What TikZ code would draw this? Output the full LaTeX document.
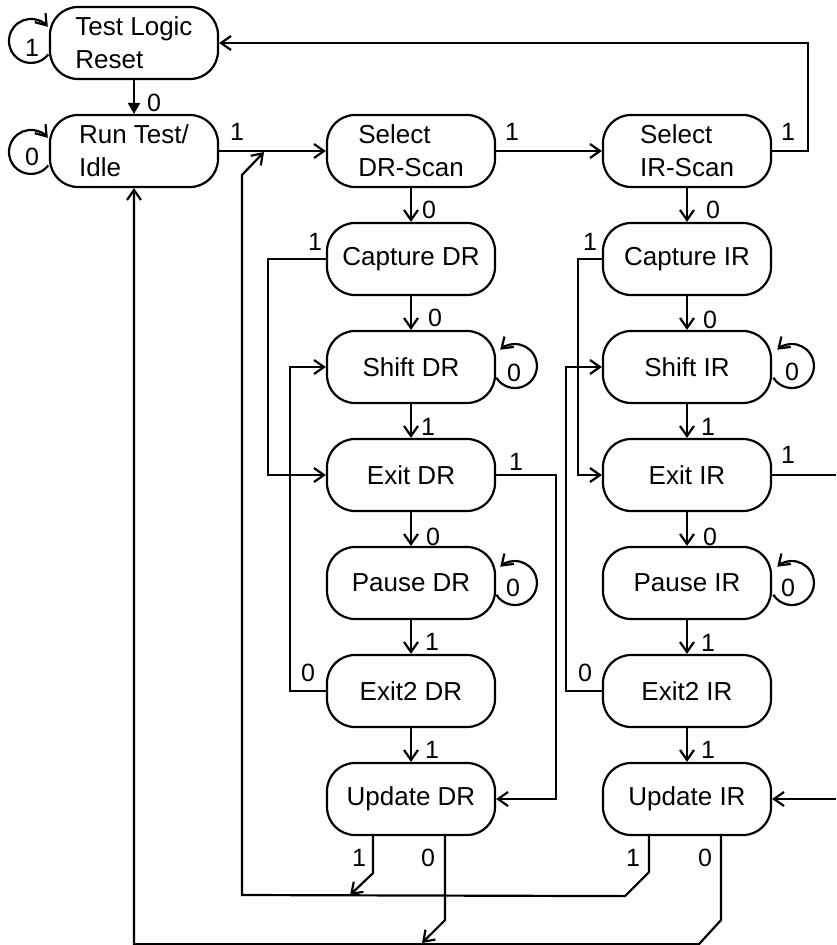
\documentclass[tikz,border=0pt]{standalone}
\usepackage{fontspec}
\setmainfont{Liberation Sans}
\usetikzlibrary{arrows.meta}
\begin{document}
\begin{tikzpicture}[x=1pt,y=-1pt,
  state/.style={draw, line width=2.2pt, rounded corners=28pt, minimum width=168pt, minimum height=72pt, inner sep=0pt, align=left, font=\fontsize{26}{33}\selectfont},
  lbl/.style={font=\fontsize{25}{30}\selectfont, inner sep=0pt},
  wire/.style={line width=2.2pt},
  arr/.style={wire, -{Straight Barb[length=10pt,width=14pt]}},
]
\useasboundingbox (0,0) rectangle (836,945);
% states
\node[state] (tlr) at (134,43) {Test Logic\\Reset};
\node[state] (rti) at (134,151) {Run Test/\\Idle};
\node[state] (sdr) at (411,151) {Select\\DR-Scan};
\node[state] (sir) at (687,151) {Select\\IR-Scan};
\node[state] (cdr) at (411,259) {Capture DR};
\node[state] (shdr) at (411,367) {Shift DR};
\node[state] (edr) at (411,475) {Exit DR};
\node[state] (pdr) at (411,583) {Pause DR};
\node[state] (e2dr) at (411,691) {Exit2 DR};
\node[state] (udr) at (411,799) {Update DR};
\node[state] (cir) at (687,259) {Capture IR};
\node[state] (shir) at (687,367) {Shift IR};
\node[state] (eir) at (687,475) {Exit IR};
\node[state] (pir) at (687,583) {Pause IR};
\node[state] (e2ir) at (687,691) {Exit2 IR};
\node[state] (uir) at (687,799) {Update IR};
% free ends
\coordinate (m1) at (264,152);
\coordinate (m2) at (350,895);
\coordinate (m3) at (422,943);
\coordinate (eirout) at (836,475);
\coordinate (uirin) at (836,799);
% top row
\draw[wire, -{Triangle[length=11pt,width=12pt]}] (tlr) -- (rti);
\draw[arr] (rti) -- (sdr);
\draw[arr] (sdr) -- (sir);
\draw[arr] (sir.east) -- ++(36,0) |- (tlr.east);
% DR column
\draw[arr] (sdr) -- (cdr);
\draw[arr] (cdr) -- (shdr);
\draw[arr] (shdr) -- (edr);
\draw[arr] (edr) -- (pdr);
\draw[arr] (pdr) -- (e2dr);
\draw[arr] (e2dr) -- (udr);
\draw[arr] (cdr.west) -- ++(-58,0) |- (edr.west);
\draw[arr] (e2dr.west) -- ++(-36,0) |- (shdr.west);
\draw[arr] (edr.east) -- ++(60,0) |- (udr.east);
% IR column
\draw[arr] (sir) -- (cir);
\draw[arr] (cir) -- (shir);
\draw[arr] (shir) -- (eir);
\draw[arr] (eir) -- (pir);
\draw[arr] (pir) -- (e2ir);
\draw[arr] (e2ir) -- (uir);
\draw[arr] (cir.west) -- ++(-24,0) |- (eir.west);
\draw[arr] (e2ir.west) -- ++(-36,0) |- (shir.west);
\draw[wire] (eir.east) -- (eirout);
\draw[arr] (uirin) -- (uir.east);
% bottom returns
\draw[arr] ([xshift=-38pt]uir.south) -- ++(0,36) -- ++(-24,24) -- (242,895) -- (242,175) -- (m1);
\draw[arr] ([xshift=-38pt]udr.south) -- ++(0,37) -- (m2);
\draw[arr] ([xshift=34pt]udr.south) -- ++(0,84) -- (m3);
\draw[arr] ([xshift=34pt]uir.south) -- ++(0,84) -- ++(-22,24) -| (rti.south);
% self loops
\draw[arr] (48.3,54.5) arc[start angle=-38, end angle=-320, radius=22pt];
\draw[arr] (48.3,165.5) arc[start angle=-38, end angle=-320, radius=22pt];
\draw[arr] (496.3,377.7) arc[start angle=-148, end angle=132, radius=22pt];
\draw[arr] (773.3,377.7) arc[start angle=-148, end angle=132, radius=22pt];
\draw[arr] (496.3,594.7) arc[start angle=-148, end angle=132, radius=22pt];
\draw[arr] (773.3,594.7) arc[start angle=-148, end angle=132, radius=22pt];
% labels
\node[lbl] (l1) at (32,48) {1};
\node[lbl] (l2) at (154,103) {0};
\node[lbl] (l3) at (32,157) {0};
\node[lbl] (l4) at (237,132) {1};
\node[lbl] (l5) at (512,132) {1};
\node[lbl] (l6) at (788,132) {1};
\node[lbl] (l7) at (429,210) {0};
\node[lbl] (l8) at (315,242) {1};
\node[lbl] (l9) at (435,318) {0};
\node[lbl] (l10) at (514,373) {0};
\node[lbl] (l11) at (428,427) {1};
\node[lbl] (l12) at (516,462) {1};
\node[lbl] (l13) at (433,537) {0};
\node[lbl] (l14) at (513,588) {0};
\node[lbl] (l15) at (432,642) {1};
\node[lbl] (l16) at (308,673) {0};
\node[lbl] (l17) at (432,750) {1};
\node[lbl] (l18) at (359,858) {1};
\node[lbl] (l19) at (428,858) {0};
\node[lbl] (l20) at (713,210) {0};
\node[lbl] (l21) at (590,242) {1};
\node[lbl] (l22) at (710,320) {0};
\node[lbl] (l23) at (792,372) {0};
\node[lbl] (l24) at (708,427) {1};
\node[lbl] (l25) at (788,455) {1};
\node[lbl] (l26) at (710,537) {0};
\node[lbl] (l27) at (788,588) {0};
\node[lbl] (l28) at (708,643) {1};
\node[lbl] (l29) at (585,673) {0};
\node[lbl] (l30) at (708,750) {1};
\node[lbl] (l31) at (633,858) {1};
\node[lbl] (l32) at (705,858) {0};
\end{tikzpicture}
\end{document}
